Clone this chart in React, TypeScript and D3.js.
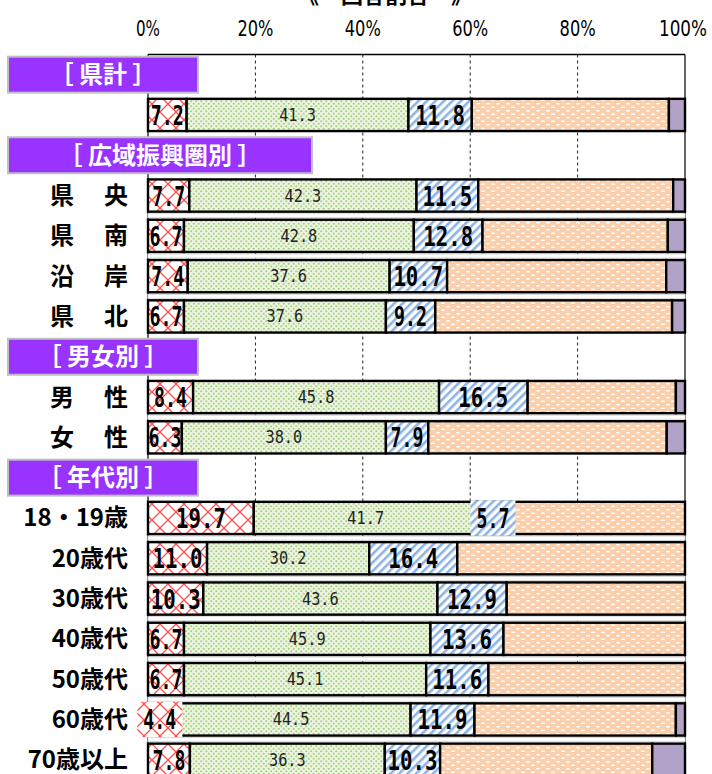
import * as d3 from 'd3'

const width = 712,
      height = 774,
      x0 = 148,
      x1 = 685

// slot order down the chart; bracketed entries are group headers
const slots = ['［ 県計 ］', '県計', '［ 広域振興圏別 ］', '県　央', '県　南', '沿　岸', '県　北',
  '［ 男女別 ］', '男　性', '女　性', '［ 年代別 ］', '18・19歳', '20歳代', '30歳代', '40歳代',
  '50歳代', '60歳代', '70歳以上']
const rows = ['県計', '県　央', '県　南', '沿　岸', '県　北', '男　性', '女　性', '18・19歳',
  '20歳代', '30歳代', '40歳代', '50歳代', '60歳代', '70歳以上']
const hiddenLabels = ['県計']
const wideHeaders = ['［ 広域振興圏別 ］']

const seriesKeys = ['s1', 's2', 's3', 's4', 's5']
const s1 = [7.2, 7.7, 6.7, 7.4, 6.7, 8.4, 6.3, 19.7, 11.0, 10.3, 6.7, 6.7, 4.4, 7.8]
const s2 = [41.3, 42.3, 42.8, 37.6, 37.6, 45.8, 38.0, 41.7, 30.2, 43.6, 45.9, 45.1, 44.5, 36.3]
const s3 = [11.8, 11.5, 12.8, 10.7, 9.2, 16.5, 7.9, 5.7, 16.4, 12.9, 13.6, 11.6, 11.9, 10.3]
const s4 = [36.7, 36.3, 34.5, 40.8, 44.1, 27.6, 44.4, 32.9, 42.4, 33.2, 33.8, 36.6, 37.5, 39.5]
const s5 = [3.0, 2.2, 3.2, 3.5, 2.4, 1.7, 3.4, 0, 0, 0, 0, 0, 1.7, 6.1]
const ticks = [0, 20, 40, 60, 80, 100]

const table = rows.map((r, i) => ({ row: r, s1: s1[i], s2: s2[i], s3: s3[i], s4: s4[i], s5: s5[i] }))

const fills: Record<string, string> = {
  s1: 'url(#pRed)', s2: 'url(#pGreen)', s3: 'url(#pBlue)', s4: 'url(#pOrange)', s5: '#b3a2c7'
}

const numFont = '"DejaVu Sans Mono", "Liberation Mono", monospace'
const jpFont = '"Noto Sans CJK JP", "Noto Sans", sans-serif'

export default function App() {
  const x = d3.scaleLinear().domain([0, 100]).range([x0, x1])
  const y = d3.scaleBand<string>()
    .domain(slots)
    .range([54.5, 54.5 + slots.length * 40.3])
    .paddingInner(0.2)
    .paddingOuter(0.1)
  const bw = y.bandwidth()
  const stacked = d3.stack<any>().keys(seriesKeys)(table)
  const fmt = d3.format('.1f')
  const bottom = height

  // gaps between consecutive bar rows
  const gaps: number[] = []
  slots.forEach((s, i) => {
    const nxt = slots[i + 1]
    if (nxt && !s.startsWith('［') && !nxt.startsWith('［')) {
      gaps.push((y(s)! + bw + y(nxt)!) / 2)
    }
  })

  return (
    <svg width={width} height={height} style={{ position: 'absolute', left: 0, top: 0, background: '#fff' }}>
      <defs>
        <pattern id='pRed' patternUnits='userSpaceOnUse' width={16} height={16}>
          <rect width={16} height={16} fill='#fff' />
          <path d='M0,0L16,16M16,0L0,16' stroke='#ff4d4d' strokeWidth={1.3} />
        </pattern>
        <pattern id='pGreen' patternUnits='userSpaceOnUse' width={5} height={5}>
          <rect width={5} height={5} fill='#eef5e2' />
          <circle cx={1.25} cy={1.25} r={1.1} fill='#a6cf84' />
          <circle cx={3.75} cy={3.75} r={1.1} fill='#a6cf84' />
        </pattern>
        <pattern id='pBlue' patternUnits='userSpaceOnUse' width={6} height={6} patternTransform='rotate(45)'>
          <rect width={6} height={6} fill='#fff' />
          <rect width={2.6} height={6} fill='#8db4e2' />
        </pattern>
        <pattern id='pOrange' patternUnits='userSpaceOnUse' width={10} height={7}>
          <rect width={10} height={7} fill='#fbcfac' />
          <rect x={1} y={1.5} width={4} height={1.6} rx={0.8} fill='#fff' />
          <rect x={6} y={5} width={4} height={1.6} rx={0.8} fill='#fff' />
        </pattern>
      </defs>

      {/* title, mostly above the page edge */}
      <text x={385} y={3} textAnchor='middle' fontFamily={jpFont} fontWeight={700} fontSize={22}>《　回答割合　》</text>

      {/* tick labels */}
      {ticks.map(t => {
        const s = t + '%'
        return (
          <text key={t} x={t === 100 ? x(t) - 2 : x(t)} y={36} textAnchor='middle' fontFamily='"DejaVu Sans", sans-serif'
            fontSize={21} textLength={s.length * 12} lengthAdjust='spacingAndGlyphs'>{s}</text>
        )
      })}

      {/* grid */}
      {ticks.slice(1, -1).map(t => (
        <line key={t} x1={x(t)} x2={x(t)} y1={54.5} y2={bottom} stroke='#222' strokeWidth={1} strokeDasharray='3,3' />
      ))}
      <line x1={x0} x2={x1} y1={54.5} y2={54.5} stroke='#000' strokeWidth={1.5} />
      <line x1={x0} x2={x0} y1={54.5} y2={bottom} stroke='#000' strokeWidth={1.2} />
      <line x1={x1} x2={x1} y1={54.5} y2={bottom} stroke='#000' strokeWidth={1.2} />

      {gaps.map((g, i) => (
        <rect key={i} x={x0} y={g - 2} width={x1 - x0} height={4} fill='#fff' stroke='#cfcfcf' strokeWidth={0.8} />
      ))}

      {/* bars */}
      {stacked.map(ser => (
        <g key={ser.key}>
          {ser.map(d => {
            const w = x(d[1]) - x(d[0])
            if (w <= 0) return null
            return (
              <rect key={d.data.row} x={x(d[0])} y={y(d.data.row)} width={w} height={bw}
                fill={fills[ser.key]} stroke='#000' strokeWidth={2.4} />
            )
          })}
        </g>
      ))}

      {/* labels */}
      {stacked.slice(0, 3).map(ser => (
        <g key={ser.key}>
          {ser.map(d => {
            const v = d[1] - d[0]
            const s = fmt(v)
            const cx = (x(d[0]) + x(d[1])) / 2
            const cy = y(d.data.row)! + bw / 2
            const w = x(d[1]) - x(d[0])
            if (ser.key === 's2') {
              return (
                <text key={d.data.row} x={cx} y={cy + 6} textAnchor='middle' fontFamily={numFont}
                  fontSize={17} textLength={s.length * 9.2} lengthAdjust='spacingAndGlyphs' fill='#222'>{s}</text>
              )
            }
            const tw = s.length * (s.length > 3 ? 12.5 : 11)
            return (
              <g key={d.data.row}>
                {w < tw && (
                  <rect x={cx - (tw + 12) / 2} y={cy - bw / 2 - 1.5} width={tw + 12} height={bw + 3}
                    fill={fills[ser.key]} />
                )}
                <text x={cx} y={cy + 10} textAnchor='middle' fontFamily={numFont} fontWeight={700}
                  fontSize={27} textLength={tw} lengthAdjust='spacingAndGlyphs' fill='#000'>{s}</text>
              </g>
            )
          })}
        </g>
      ))}

      {/* headers and row labels */}
      {slots.map(s => {
        const cy = y(s)! + bw / 2
        if (s.startsWith('［')) {
          const bwid = wideHeaders.includes(s) ? 304 : 190
          return (
            <g key={s}>
              <rect x={8} y={cy - 18} width={bwid} height={36} fill='#9933ff' stroke='#c0c0c0' strokeWidth={2} />
              <text x={8 + bwid / 2} y={cy + 8.5} textAnchor='middle' fill='#fff'
                fontFamily={jpFont} fontWeight={700} fontSize={24}>{s}</text>
            </g>
          )
        }
        if (hiddenLabels.includes(s)) return null
        const spaced = s.includes('　')
        return (
          <text key={s} x={128} y={cy + 8.5} textAnchor='end' fontFamily={jpFont} fontWeight={700}
            fontSize={24} fill='#000' textLength={spaced ? 78 : undefined}
            lengthAdjust={spaced ? 'spacing' : undefined}>{s}</text>
        )
      })}
    </svg>
  )
}
